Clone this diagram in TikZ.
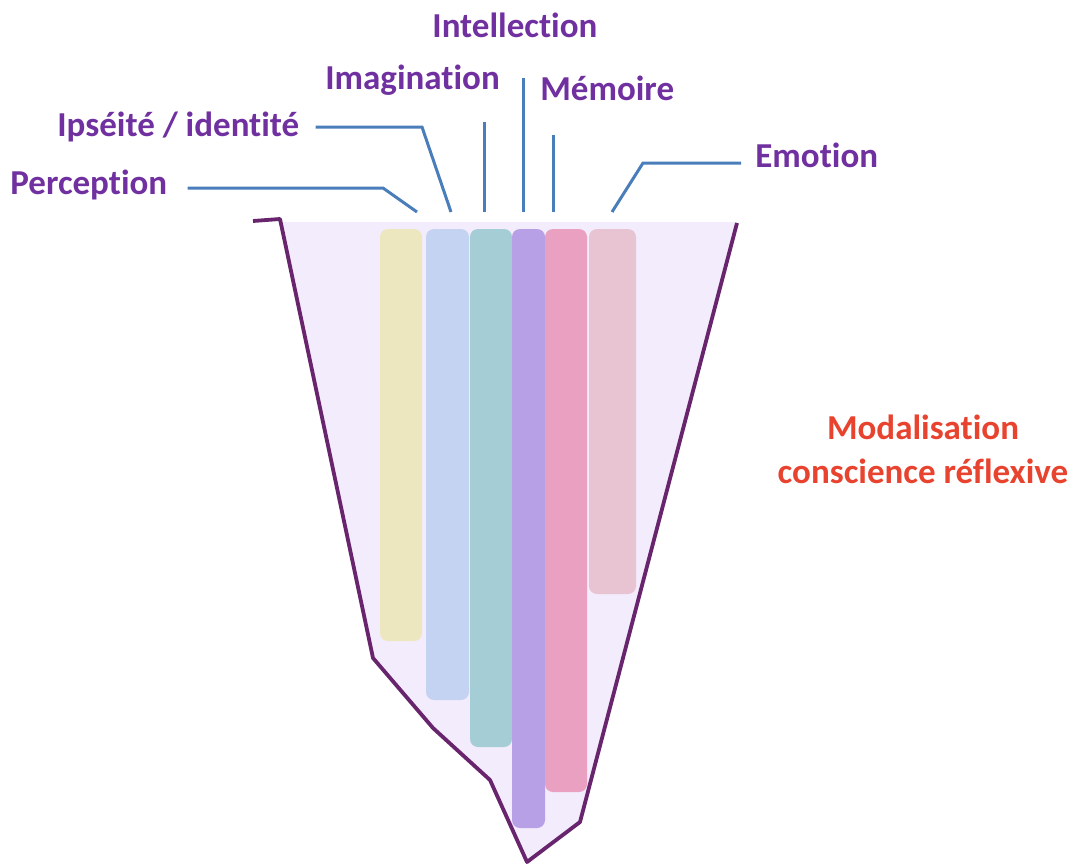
\documentclass[tikz,border=0pt]{standalone}
\usepackage{fontspec}
\setmainfont{Carlito}[Ligatures=NoCommon]
\usetikzlibrary{positioning}
\definecolor{P}{RGB}{112, 48, 160}
\definecolor{R}{RGB}{232, 67, 47}
\definecolor{L}{RGB}{74, 126, 187}
\definecolor{F}{RGB}{104, 36, 108}
\definecolor{Fill}{RGB}{243, 236, 252}
\definecolor{Y}{RGB}{237, 231, 192}
\definecolor{B}{RGB}{197, 211, 243}
\definecolor{T}{RGB}{165, 205, 214}
\definecolor{V}{RGB}{184, 160, 230}
\definecolor{K}{RGB}{233, 160, 193}
\definecolor{Q}{RGB}{232, 196, 211}
\tikzset{
  lbl/.style={text=P, font=\fontsize{17.5}{20}\selectfont\bfseries, inner sep=0pt},
  lead/.style={L, line width=1.5pt},
  bar/.style={rounded corners=4pt}
}

\begin{document}
\begin{tikzpicture}[x=0.5pt, y=-0.5pt]
  \useasboundingbox (0,0) rectangle (1076,867);
  % funnel
  \fill[Fill] (280,222) -- (373,658) -- (433,728) -- (490,780) -- (527,862) -- (580,822) -- (737,222) -- cycle;
  % bars
  \fill[Y, bar] (380,229) rectangle (422,641);
  \fill[B, bar] (426,229) rectangle (469,700);
  \fill[T, bar] (470,229) rectangle (512,747);
  \fill[V, bar] (512,229) rectangle (545,828);
  \fill[K, bar] (545,229) rectangle (587,792);
  \fill[Q, bar] (589,229) rectangle (636,594);
  \draw[F, line width=1.9pt, line join=round] (253,221) -- (280,219) -- (373,658) -- (433,728) -- (490,780) -- (527,862) -- (580,822) -- (737,223);
  % labels
  \node[lbl, anchor=west] (perc) at (10,185) {Perception};
  \node[lbl, anchor=west] (ipse) at (57,127) {Ipséité / identité};
  \node[lbl, anchor=west] (imag) at (325,80) {Imagination};
  \node[lbl, anchor=west] (intel) at (432,25) {Intellection};
  \node[lbl, anchor=west] (memo) at (540,88) {Mémoire};
  \node[lbl, anchor=west] (emo) at (755,155) {Emotion};
  \node[font=\fontsize{17.5}{22}\selectfont\bfseries, text=R, align=center] (moda) at (923,449) {Modalisation\\conscience réflexive};
  % leader lines
  \coordinate (perc-tip) at (417,212);
  \coordinate (ipse-tip) at (451,212);
  \coordinate (imag-top) at (484,122);
  \coordinate (imag-tip) at (484,212);
  \coordinate (intel-top) at (523,78);
  \coordinate (intel-tip) at (523,212);
  \coordinate (memo-top) at (553,135);
  \coordinate (memo-tip) at (553,212);
  \coordinate (emo-tip) at (612,212);
  \draw[lead] (perc.east) ++(20,3) -- (383,188) -- (perc-tip);
  \draw[lead] (ipse.east) ++(16,0) -- (422,127) -- (ipse-tip);
  \draw[lead] (imag-top) -- (imag-tip);
  \draw[lead] (intel-top) -- (intel-tip);
  \draw[lead] (memo-top) -- (memo-tip);
  \draw[lead] (emo.west) ++(-14,8) -- (643,163) -- (emo-tip);
\end{tikzpicture}
\end{document}
